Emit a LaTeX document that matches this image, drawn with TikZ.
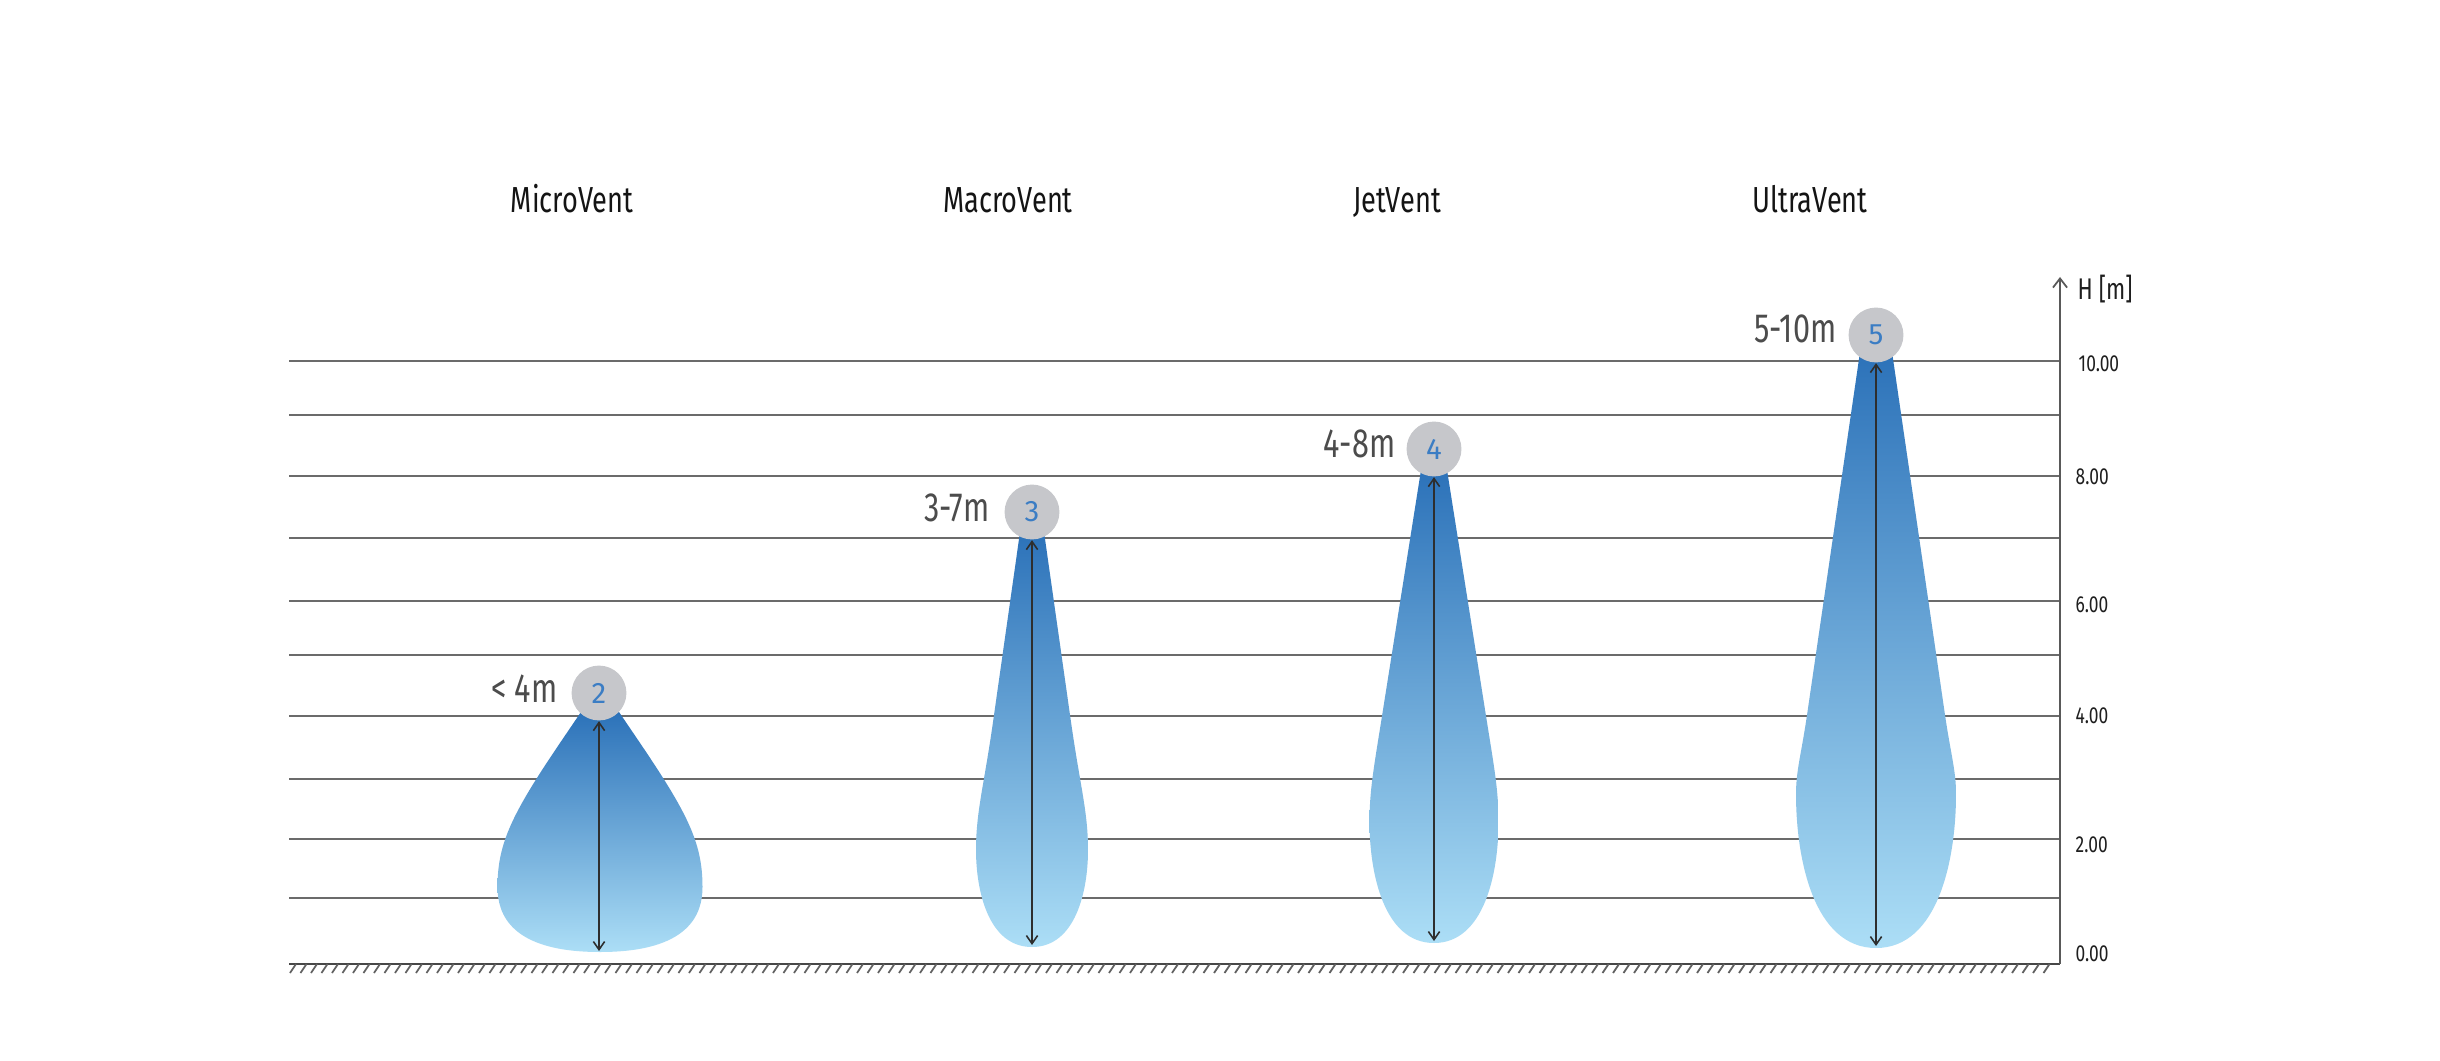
\documentclass[tikz,border=0pt]{standalone}
\usepackage{fontspec}
\setmainfont{Fira Sans}[FakeStretch=0.75]
\newfontfamily\digitfont{Fira Sans}
\usetikzlibrary{arrows.meta}
\definecolor{plumetop}{HTML}{2C72B9}
\definecolor{plumebot}{HTML}{ACDEF6}
\definecolor{bubblegray}{HTML}{C6C7CB}
\definecolor{numblue}{HTML}{3B7DC4}
\newcommand{\plume}[9]{%
 \pgfmathsetmacro{\plK}{(#4-#3)/(#5-#2)*(#7-#5)/2}%
 \pgfmathsetmacro{\plY}{(#5+#7)/2}%
 \pgfmathsetmacro{\plB}{#7-(#7-#5)*0.3}%
 \pgfmathsetmacro{\plC}{#7+0.42*(#8-#7)}%
 \pgfmathsetmacro{\plX}{#9*#6}%
 \shade[plumeshade] (#1-#3,#2) -- (#1+#3,#2) -- (#1+#4,#5)
   .. controls ({#1+#4+\plK},\plY) and ({#1+#6},\plB) .. ({#1+#6},#7)
   .. controls ({#1+#6},\plC) and ({#1+\plX},#8) .. (#1,#8)
   .. controls ({#1-\plX},#8) and ({#1-#6},\plC) .. ({#1-#6},#7)
   .. controls ({#1-#6},\plB) and ({#1-#4-\plK},\plY) .. (#1-#4,#5) -- cycle;}
\begin{document}
\begin{tikzpicture}[x=0.01cm,y=-0.01cm,
  gridline/.style={draw=black!58, line width=0.55pt},
  groundline/.style={draw=black!72, line width=0.6pt},
  hatchline/.style={draw=black!62, line width=0.5pt},
  plumeshade/.style={top color=plumetop, bottom color=plumebot},
  bubble/.style={circle, fill=bubblegray, minimum size=15.6pt, inner sep=0pt, text=numblue, font=\digitfont\fontsize{8.4}{10}\selectfont},
  dimarrow/.style={line width=0.45pt, draw=black!82, {Straight Barb[length=2.3pt,width=3.2pt]}-{Straight Barb[length=2.3pt,width=3.2pt]}},
  axisline/.style={line width=0.5pt, draw=black!65, -{Straight Barb[length=2.6pt,width=4pt]}},
  rangelabel/.style={text=black!70, font=\fontsize{11.6}{13}\selectfont, inner sep=0pt},
  titlelabel/.style={text=black!92, font=\fontsize{10.3}{12}\selectfont, inner sep=0pt},
  ticklabel/.style={text=black!88, font=\fontsize{6.6}{8}\selectfont, inner sep=0pt, anchor=base west}]
\useasboundingbox (0,0) rectangle (2440,1061);
\fill[white] (0,0) rectangle (2440,1061);
% grid
\foreach \yy in {361,415,476,538,601,655,716,779,839,898}
  \draw[gridline] (289,\yy) -- (2060,\yy);
% ground
\draw[groundline] (289,964) -- (2060,964);
\foreach \xx in {290,300.5,...,2052}
  \draw[hatchline] (\xx,973) -- ++(6,-9);
% plumes
\plume{600}{712}{19}{38}{740}{102.5}{887}{952}{0.87}
\plume{1032}{532}{12}{39}{722}{56}{850}{947}{0.78}
\plume{1434}{470}{13}{52}{716}{64.5}{822}{943}{0.78}
\plume{1876}{352}{16}{69}{715}{80}{794}{948}{0.78}
% bubbles
\node[bubble] (c2) at (599,693) {2};
\node[bubble] (c3) at (1032,512) {3};
\node[bubble] (c4) at (1434,449) {4};
\node[bubble] (c5) at (1876,335) {5};
% arrow ends
\coordinate (b2) at (599,951);
\coordinate (b3) at (1032,945);
\coordinate (b4) at (1434,941);
\coordinate (b5) at (1876,946);
\draw[dimarrow] (c2.south) -- (b2);
\draw[dimarrow] (c3.south) -- (b3);
\draw[dimarrow] (c4.south) -- (b4);
\draw[dimarrow] (c5.south) -- (b5);
% range labels
\node[rangelabel, anchor=base east] (l2) at (558,702) {< 4m};
\node[rangelabel, anchor=base east] (l3) at (990,521) {3-7m};
\node[rangelabel, anchor=base east] (l4) at (1396,458) {4-8m};
\node[rangelabel, anchor=base east] (l5) at (1837,343) {5-10m};
% titles
\node[titlelabel, anchor=base] (t1) at (572,213) {MicroVent};
\node[titlelabel, anchor=base] (t2) at (1008,213) {MacroVent};
\node[titlelabel, anchor=base] (t3) at (1397,213) {JetVent};
\node[titlelabel, anchor=base] (t4) at (1810,213) {UltraVent};
% axis
\coordinate (ax0) at (2060,964);
\coordinate (ax1) at (2060,277);
\draw[axisline] (ax0) -- (ax1);
\node[text=black!88, font=\fontsize{8.5}{10}\selectfont, inner sep=0pt, anchor=base west] (hl) at (2077,300) {H [m]};
\node[ticklabel] (k10) at (2078,371) {10.00};
\node[ticklabel] (k8) at (2075,484) {8.00};
\node[ticklabel] (k6) at (2075,612) {6.00};
\node[ticklabel] (k4) at (2075,723) {4.00};
\node[ticklabel] (k2) at (2075,852) {2.00};
\node[ticklabel] (k0) at (2075,961) {0.00};
\end{tikzpicture}
\end{document}
